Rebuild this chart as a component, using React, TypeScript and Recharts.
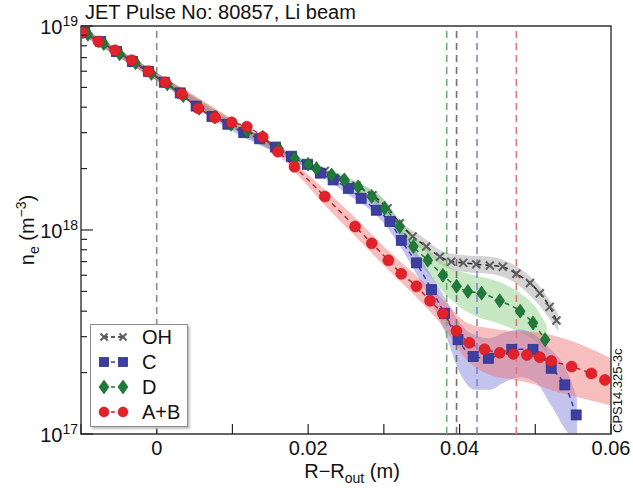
import React from 'react';
import { ComposedChart, Line, Area, XAxis, YAxis, ReferenceLine, ReferenceArea, Legend } from 'recharts';

const FONT = '"Liberation Sans", Arial, sans-serif';

const titleText = 'JET Pulse No: 80857, Li beam';
const figureCode = 'CPS14.325-3c';
const seriesNames = ['OH', 'C', 'D', 'A+B'];

const xTicks = [-0.01, 0, 0.01, 0.02, 0.03, 0.04, 0.05, 0.06];
const xTickLabels = ['', '0', '', '0.02', '', '0.04', '', '0.06'];
const yTicks = [1e17, 2e17, 3e17, 4e17, 5e17, 6e17, 7e17, 8e17, 9e17, 1e18, 2e18, 3e18, 4e18, 5e18, 6e18, 7e18, 8e18, 9e18, 1e19];

// Vertical dashed markers
const vLineX = [0, 0.0383, 0.0396, 0.0423, 0.0475];
const vLineColor = ['#8a8a8a', '#6fae6a', '#707070', '#8585cc', '#e07878'];

// OH
const xOH = [-0.0093, -0.0072, -0.0051, -0.0030, -0.0009, 0.0012, 0.0033, 0.0054, 0.0075, 0.0096, 0.0117, 0.0138, 0.0159, 0.0180, 0.0201, 0.0222, 0.0243, 0.0264, 0.0285, 0.0305, 0.0321, 0.0338, 0.0356, 0.0374, 0.0389, 0.0405, 0.0422, 0.0440, 0.0457, 0.0475, 0.0493, 0.0506, 0.0519, 0.0528];
const nOH = [9.1e18, 8.2e18, 7.4e18, 6.6e18, 5.9e18, 5.25e18, 4.6e18, 4.0e18, 3.6e18, 3.32e18, 3.05e18, 2.85e18, 2.5e18, 2.25e18, 2.08e18, 1.95e18, 1.8e18, 1.65e18, 1.48e18, 1.28e18, 1.08e18, 9.3e17, 8.3e17, 7.4e17, 7.0e17, 6.9e17, 6.8e17, 6.7e17, 6.6e17, 6.1e17, 5.5e17, 4.9e17, 4.2e17, 3.6e17];
const bandXOH = [-0.01, 0.0, 0.01, 0.02, 0.026, 0.030, 0.032, 0.035, 0.038, 0.041, 0.044, 0.047, 0.050, 0.053];
const bandLoOH = [9.1e18, 5.4e18, 3.15e18, 2.0e18, 1.58e18, 1.25e18, 1.0e18, 8.1e17, 6.6e17, 6.2e17, 6.1e17, 5.6e17, 4.5e17, 3.2e17];
const bandHiOH = [9.9e18, 5.9e18, 3.45e18, 2.15e18, 1.72e18, 1.42e18, 1.12e18, 9.3e17, 7.8e17, 7.5e17, 7.4e17, 6.8e17, 5.6e17, 3.9e17];

// C
const xC = [-0.0095, -0.0074, -0.0053, -0.0032, -0.0011, 0.0010, 0.0031, 0.0052, 0.0073, 0.0094, 0.0115, 0.0136, 0.0157, 0.0178, 0.0199, 0.0216, 0.0233, 0.0253, 0.0270, 0.0290, 0.0308, 0.0323, 0.0343, 0.0363, 0.0380, 0.0398, 0.0418, 0.0438, 0.0469, 0.0497, 0.0521, 0.0539, 0.0554];
const nC = [9.3e18, 8.4e18, 7.5e18, 6.7e18, 6.0e18, 5.3e18, 4.7e18, 4.05e18, 3.6e18, 3.3e18, 3.0e18, 2.8e18, 2.55e18, 2.3e18, 2.1e18, 1.9e18, 1.76e18, 1.6e18, 1.43e18, 1.25e18, 1.1e18, 8.9e17, 6.9e17, 5.1e17, 3.9e17, 2.9e17, 2.4e17, 2.35e17, 2.6e17, 2.6e17, 2.1e17, 1.74e17, 1.24e17];
const bandXC = [-0.01, 0, 0.01, 0.02, 0.025, 0.030, 0.033, 0.036, 0.038, 0.040, 0.042, 0.044, 0.046, 0.048, 0.050, 0.052, 0.054, 0.0555];
const bandLoC = [9.1e18, 5.4e18, 3.05e18, 2.0e18, 1.52e18, 1.08e18, 7.4e17, 4.6e17, 3.2e17, 2.0e17, 1.65e17, 1.65e17, 1.8e17, 1.9e17, 1.8e17, 1.4e17, 1.05e17, 0.9e17];
const bandHiC = [9.9e18, 5.9e18, 3.35e18, 2.15e18, 1.7e18, 1.27e18, 9.2e17, 6.2e17, 4.7e17, 3.5e17, 3.05e17, 2.95e17, 3.15e17, 3.25e17, 3.05e17, 2.6e17, 2.1e17, 1.5e17];

// D
const xD = [-0.0091, -0.0070, -0.0049, -0.0028, -0.0007, 0.0014, 0.0035, 0.0056, 0.0077, 0.0098, 0.0119, 0.0140, 0.0161, 0.0182, 0.0200, 0.0211, 0.0231, 0.0248, 0.0266, 0.0284, 0.0301, 0.0321, 0.0339, 0.0358, 0.0378, 0.0396, 0.0411, 0.0429, 0.0453, 0.0480, 0.0497, 0.0513];
const nD = [9.1e18, 8.2e18, 7.3e18, 6.6e18, 5.85e18, 5.2e18, 4.55e18, 3.95e18, 3.58e18, 3.3e18, 3.05e18, 2.85e18, 2.5e18, 2.25e18, 2.1e18, 2.0e18, 1.86e18, 1.76e18, 1.63e18, 1.46e18, 1.28e18, 1.04e18, 8.3e17, 7.1e17, 6.0e17, 5.3e17, 5.0e17, 4.9e17, 4.5e17, 4.0e17, 3.5e17, 2.9e17];
const bandXD = [-0.01, 0, 0.01, 0.02, 0.025, 0.030, 0.033, 0.036, 0.039, 0.042, 0.045, 0.048, 0.050, 0.0515];
const bandLoD = [9.1e18, 5.4e18, 3.15e18, 2.0e18, 1.68e18, 1.2e18, 8.4e17, 6.0e17, 4.5e17, 3.8e17, 3.5e17, 3.15e17, 2.85e17, 2.5e17];
const bandHiD = [9.9e18, 5.9e18, 3.45e18, 2.15e18, 1.84e18, 1.4e18, 1.02e18, 7.9e17, 6.5e17, 6.0e17, 5.6e17, 4.9e17, 4.2e17, 3.4e17];

// A+B
const xAB = [-0.0098, -0.0077, -0.0055, -0.0033, -0.0011, 0.0011, 0.0033, 0.0055, 0.0077, 0.0099, 0.0119, 0.0140, 0.0160, 0.0182, 0.0222, 0.0262, 0.0284, 0.0306, 0.0323, 0.0343, 0.0361, 0.0378, 0.0396, 0.0413, 0.0433, 0.0453, 0.0471, 0.0489, 0.0506, 0.0521, 0.0548, 0.0574, 0.0592];
const nAB = [9.3e18, 8.4e18, 7.6e18, 6.8e18, 6.0e18, 5.3e18, 4.65e18, 3.95e18, 3.56e18, 3.37e18, 3.21e18, 2.86e18, 2.42e18, 2.04e18, 1.46e18, 1.04e18, 8.6e17, 7.1e17, 6.1e17, 5.3e17, 4.5e17, 3.9e17, 3.2e17, 2.8e17, 2.6e17, 2.5e17, 2.47e17, 2.44e17, 2.38e17, 2.28e17, 2.14e17, 1.98e17, 1.84e17];
const bandXAB = [-0.01, 0, 0.01, 0.016, 0.019, 0.022, 0.026, 0.030, 0.034, 0.038, 0.041, 0.044, 0.047, 0.050, 0.053, 0.056, 0.060];
const bandLoAB = [9.1e18, 5.4e18, 3.2e18, 2.35e18, 1.8e18, 1.35e18, 9.5e17, 6.7e17, 4.8e17, 3.3e17, 2.3e17, 1.95e17, 1.85e17, 1.75e17, 1.6e17, 1.5e17, 1.38e17];
const bandHiAB = [9.9e18, 5.9e18, 3.5e18, 2.5e18, 2.02e18, 1.6e18, 1.17e18, 8.3e17, 6.1e17, 4.5e17, 3.5e17, 3.3e17, 3.2e17, 3.15e17, 3.0e17, 2.75e17, 2.35e17];

const pts = (xs: number[], ns: number[]) => xs.map((x, i) => ({ x, n: ns[i] }));
const band = (xs: number[], lo: number[], hi: number[]) => xs.map((x, i) => ({ x, r: [lo[i], hi[i]] }));

const COL = {
  oh: '#5e5e5e', ohLine: '#222222', ohBand: '#a8a8a8',
  c: '#3c3f9f', cLine: '#3a3fb0', cBand: '#7a7ad6',
  d: '#1f7a3a', dLine: '#1f7a3a', dBand: '#86cc7c',
  ab: '#e1222b', abLine: '#c8202a', abBand: '#ee6e6e',
};

const CrossMark = ({ cx, cy, s = 4 }: any) => (
  <g stroke={COL.oh} strokeWidth={2}>
    <line x1={cx - s} y1={cy - s} x2={cx + s} y2={cy + s} />
    <line x1={cx - s} y1={cy + s} x2={cx + s} y2={cy - s} />
  </g>
);
const SquareMark = ({ cx, cy, s = 5 }: any) => (
  <rect x={cx - s} y={cy - s} width={2 * s} height={2 * s} fill={COL.c} stroke="#2e3190" strokeWidth={0.8} />
);
const DiamondMark = ({ cx, cy }: any) => (
  <polygon points={`${cx},${cy - 7} ${cx + 5},${cy} ${cx},${cy + 7} ${cx - 5},${cy}`} fill={COL.d} stroke="#17602c" strokeWidth={0.6} />
);
const CircleMark = ({ cx, cy, r = 5.5 }: any) => (
  <circle cx={cx} cy={cy} r={r} fill={COL.ab} stroke="#c41a22" strokeWidth={0.6} />
);

const dotFn = (Comp: any) => (p: any) => {
  if (p.cx == null || p.cy == null || isNaN(p.cx) || isNaN(p.cy)) return <g key={`k${p.index}`} />;
  return <Comp key={`k${p.index}`} cx={p.cx} cy={p.cy} />;
};

const isMajor = (v: number) => {
  const e = Math.round(Math.log10(v));
  return Math.abs(v - Math.pow(10, e)) / v < 1e-6;
};

const YTickLeft = (props: any) => {
  const { x, y, payload } = props;
  const v = payload.value;
  const major = isMajor(v);
  const exp = Math.round(Math.log10(v));
  return (
    <g>
      <line x1={x} x2={x + (major ? 12 : 6)} y1={y} y2={y} stroke="#222" strokeWidth={1.2} />
      {major && (
        <text x={x - 3} y={y + 8} textAnchor="end" fontSize={20} fontFamily={FONT} fill="#111">
          <tspan>10</tspan>
          <tspan dy={-8} fontSize={14}>{exp}</tspan>
        </text>
      )}
    </g>
  );
};
const YTickRight = (props: any) => {
  const { x, y, payload } = props;
  const major = isMajor(payload.value);
  return <line x1={x} x2={x - (major ? 10 : 5)} y1={y} y2={y} stroke="#777" strokeWidth={1} />;
};
const XTickBottom = (props: any) => {
  const { x, y, index } = props;
  const lbl = xTickLabels[index];
  return (
    <g>
      <line x1={x} x2={x} y1={y} y2={y - 10} stroke="#222" strokeWidth={1.2} />
      {lbl && (
        <text x={x} y={y + 21} textAnchor="middle" fontSize={20} fontFamily={FONT} fill="#111">{lbl}</text>
      )}
    </g>
  );
};
const XTickTop = (props: any) => {
  const { x, y } = props;
  return <line x1={x} x2={x} y1={y} y2={y + 9} stroke="#555" strokeWidth={1} />;
};

const legendMarks = [
  (cx: number, cy: number) => <CrossMark cx={cx} cy={cy} s={3.5} />,
  (cx: number, cy: number) => <SquareMark cx={cx} cy={cy} s={4.5} />,
  (cx: number, cy: number) => <DiamondMark cx={cx} cy={cy} />,
  (cx: number, cy: number) => <CircleMark cx={cx} cy={cy} r={5} />,
];
const legendLineCol = [COL.ohLine, COL.cLine, COL.dLine, COL.abLine];

const LegendBox = () => (
  <div style={{ width: 98, height: 103, boxSizing: 'border-box', border: '1.5px solid #8c8c8c', background: '#fff', boxShadow: '2px 2px 2px #c4c4c4' }}>
    <svg width={95} height={100} style={{ display: 'block' }}>
      {seriesNames.map((name, i) => {
        const cy = 12 + i * 25;
        return (
          <g key={name}>
            <line x1={13} x2={32} y1={cy} y2={cy} stroke={legendLineCol[i]} strokeWidth={1.5} strokeDasharray="4 3" />
            {legendMarks[i](13, cy)}
            {legendMarks[i](32, cy)}
            <text x={51} y={cy + 7} fontSize={20} fontFamily={FONT} fill="#111">{name}</text>
          </g>
        );
      })}
    </svg>
  </div>
);

export default function App() {
  return (
    <div style={{ position: 'absolute', left: 0, top: 0, width: 633, height: 492, background: '#fff' }}>
      <ComposedChart width={633} height={492} margin={{ top: 26, right: 22, bottom: 0, left: 0 }}>
        <XAxis dataKey="x" type="number" domain={[-0.01, 0.06]} ticks={xTicks} allowDataOverflow
          height={58} tickSize={0} tickMargin={0} axisLine={false} tickLine={false} tick={<XTickBottom />} interval={0} />
        <XAxis xAxisId="top" orientation="top" type="number" domain={[-0.01, 0.06]} ticks={xTicks} allowDataOverflow
          height={0} tickSize={0} tickMargin={0} axisLine={false} tickLine={false} tick={<XTickTop />} interval={0} />
        <YAxis scale="log" type="number" domain={[1e17, 1e19]} ticks={yTicks} allowDataOverflow
          width={81} tickSize={0} tickMargin={0} axisLine={false} tickLine={false} tick={<YTickLeft />} interval={0} />
        <YAxis yAxisId="right" orientation="right" scale="log" type="number" domain={[1e17, 1e19]} ticks={yTicks} allowDataOverflow
          width={0} tickSize={0} tickMargin={0} axisLine={false} tickLine={false} tick={<YTickRight />} interval={0} />

        <Area data={band(bandXOH, bandLoOH, bandHiOH)} dataKey="r" type="monotone" stroke="none" fill={COL.ohBand} fillOpacity={0.5} isAnimationActive={false} />
        <Area data={band(bandXD, bandLoD, bandHiD)} dataKey="r" type="monotone" stroke="none" fill={COL.dBand} fillOpacity={0.45} isAnimationActive={false} />
        <Area data={band(bandXC, bandLoC, bandHiC)} dataKey="r" type="monotone" stroke="none" fill={COL.cBand} fillOpacity={0.45} isAnimationActive={false} />
        <Area data={band(bandXAB, bandLoAB, bandHiAB)} dataKey="r" type="monotone" stroke="none" fill={COL.abBand} fillOpacity={0.45} isAnimationActive={false} />

        {vLineX.map((vx, i) => (
          <ReferenceLine key={`v${i}`} x={vx} stroke={vLineColor[i]} strokeWidth={1.6} strokeDasharray="7 5" />
        ))}

        <Line data={pts(xOH, nOH)} dataKey="n" type="monotone" stroke={COL.ohLine} strokeWidth={1.5} strokeDasharray="5 4" dot={dotFn(CrossMark)} activeDot={false} isAnimationActive={false} />
        <Line data={pts(xC, nC)} dataKey="n" type="monotone" stroke={COL.cLine} strokeWidth={1.5} strokeDasharray="5 4" dot={dotFn(SquareMark)} activeDot={false} isAnimationActive={false} />
        <Line data={pts(xD, nD)} dataKey="n" type="monotone" stroke={COL.dLine} strokeWidth={1.5} strokeDasharray="5 4" dot={dotFn(DiamondMark)} activeDot={false} isAnimationActive={false} />
        <Line data={pts(xAB, nAB)} dataKey="n" type="monotone" stroke={COL.abLine} strokeWidth={1.5} strokeDasharray="5 4" dot={dotFn(CircleMark)} activeDot={false} isAnimationActive={false} />

        <ReferenceArea x1={-0.01} x2={0.06} y1={1e17} y2={1e19} fill="none" stroke="#333" strokeWidth={1.4} ifOverflow="visible" />

        <Legend layout="vertical" align="center" verticalAlign="middle" content={<LegendBox />}
          wrapperStyle={{ left: 90, top: 324, width: 98, height: 103 }} />
      </ComposedChart>

      <svg width={633} height={492} style={{ position: 'absolute', left: 0, top: 0, pointerEvents: 'none' }}>
        <text x={85} y={19} fontSize={20} fontFamily={FONT} fill="#111">{titleText}</text>
        <text transform="translate(34,230) rotate(-90)" textAnchor="middle" fontSize={20} fontFamily={FONT} fill="#111">
          <tspan>n</tspan>
          <tspan dy={5} fontSize={14}>e</tspan>
          <tspan dy={-5}> (m</tspan>
          <tspan dy={-8} fontSize={14}>−3</tspan>
          <tspan dy={8}>)</tspan>
        </text>
        <text x={352} y={478} textAnchor="middle" fontSize={20} fontFamily={FONT} fill="#111">
          <tspan>R−R</tspan>
          <tspan dy={5} fontSize={14}>out</tspan>
          <tspan dy={-5}> (m)</tspan>
        </text>
        <text transform="translate(622,433) rotate(-90)" fontSize={13} fontFamily={FONT} fill="#111">{figureCode}</text>
      </svg>
    </div>
  );
}
